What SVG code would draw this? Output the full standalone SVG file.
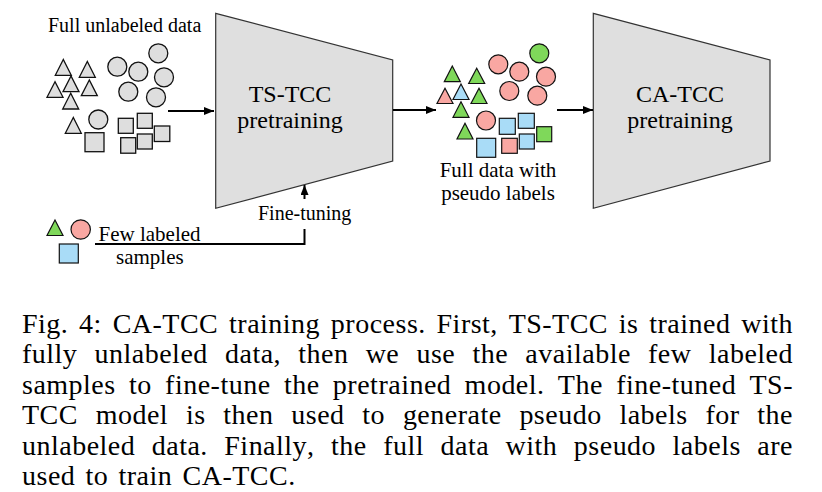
<svg xmlns="http://www.w3.org/2000/svg" width="822" height="492" viewBox="0 0 822 492">
<defs>
<style>
.lbl{font-family:"Liberation Serif","Times New Roman",serif;fill:#000}
.cap{font-family:"Liberation Serif","Times New Roman",serif;font-size:28px;fill:#000;letter-spacing:0.5px;font-kerning:none}
.trap{fill:#dfdfdf;stroke:#333;stroke-width:1.2}
.g{fill:#dedede;stroke:#111;stroke-width:1.3}
.gr{fill:#7fd85a;stroke:#111;stroke-width:1.2}
.rd{fill:#f9a7a2;stroke:#111;stroke-width:1.2}
.bl{fill:#a9dcf7;stroke:#111;stroke-width:1.2}
.ln{fill:none;stroke:#000;stroke-width:2}
</style>
<marker id="ah" markerWidth="10" markerHeight="8" refX="10" refY="4" orient="auto" markerUnits="userSpaceOnUse">
<path d="M0,0 L10,4 L0,8 z" fill="#000"/>
</marker>
</defs>
<rect width="822" height="492" fill="#fff"/>

<g id="unlabeled-data">
<text class="lbl" x="48" y="32" font-size="20">Full unlabeled data</text>
<polygon class="g" points="63.3,59.5 55.3,75.3 71.3,75.3"/>
<polygon class="g" points="87.3,61.5 79.3,77.3 95.3,77.3"/>
<polygon class="g" points="71,76 63,91.7 79,91.7"/>
<polygon class="g" points="55,81.7 47,97.3 63,97.3"/>
<polygon class="g" points="89.3,80 81.3,95.7 97.3,95.7"/>
<polygon class="g" points="70.7,93.3 62.7,109 78.7,109"/>
<polygon class="g" points="73.3,117.5 65.3,133.3 81.3,133.3"/>
<circle class="g" cx="158.3" cy="53.3" r="9.5"/>
<circle class="g" cx="117.3" cy="66.7" r="9.5"/>
<circle class="g" cx="138.3" cy="71.7" r="9.5"/>
<circle class="g" cx="164" cy="77.3" r="9.5"/>
<circle class="g" cx="128.3" cy="91.7" r="9.5"/>
<circle class="g" cx="156" cy="97.3" r="9.5"/>
<circle class="g" cx="98.3" cy="119.5" r="9.5"/>
<rect class="g" x="118.3" y="118.3" width="15" height="15"/>
<rect class="g" x="137.3" y="113.3" width="15" height="15"/>
<rect class="g" x="154.3" y="126" width="15.5" height="15.5"/>
<rect class="g" x="137.3" y="134" width="15" height="15"/>
<rect class="g" x="120.7" y="137.7" width="15" height="15.5"/>
<rect class="g" x="85" y="132.7" width="19" height="19"/>
</g>

<g id="ts-tcc">
<polygon class="trap" points="215.7,13.3 392.7,60 392.7,161 215.7,208.3"/>
<text class="lbl" x="290" y="101.5" font-size="24" text-anchor="middle">TS-TCC</text>
<text class="lbl" x="290" y="128" font-size="24" text-anchor="middle">pretraining</text>
</g>

<g id="pseudo-data">
<polygon class="gr" points="452.3,66 444.3,81.7 460.3,81.7"/>
<polygon class="gr" points="476.7,68.3 468.7,83.5 484.7,83.5"/>
<polygon class="rd" points="445,88.3 437,103.5 453,103.5"/>
<polygon class="bl" points="461,84 453,99.5 469,99.5"/>
<polygon class="gr" points="479,88.3 471,103.5 487,103.5"/>
<polygon class="gr" points="461,101.7 453,117.3 469,117.3"/>
<polygon class="gr" points="465,123.3 457,139 473,139"/>
<circle class="rd" cx="498.3" cy="64.3" r="9.5"/>
<circle class="rd" cx="519.3" cy="71.7" r="9.5"/>
<circle class="gr" cx="539.3" cy="53.3" r="9.5"/>
<circle class="rd" cx="546" cy="76.7" r="9.5"/>
<circle class="rd" cx="509.3" cy="91" r="9.5"/>
<circle class="rd" cx="537.3" cy="95.7" r="9.5"/>
<circle class="rd" cx="486" cy="120.5" r="9.5"/>
<rect class="bl" x="499.3" y="118.3" width="16" height="16"/>
<rect class="bl" x="518.3" y="113.3" width="16" height="15"/>
<rect class="gr" x="536.7" y="126.7" width="15" height="15"/>
<rect class="bl" x="519.3" y="134" width="15" height="15"/>
<rect class="rd" x="501.7" y="138.3" width="15.6" height="15"/>
<rect class="bl" x="476.7" y="138.3" width="19" height="19"/>
<text class="lbl" x="498" y="176.5" font-size="21" text-anchor="middle">Full data with</text>
<text class="lbl" x="498" y="200" font-size="21" text-anchor="middle">pseudo labels</text>
</g>

<g id="ca-tcc">
<polygon class="trap" points="593.3,13.3 770,60 770,161 593.3,208.3"/>
<text class="lbl" x="680" y="101.5" font-size="24" text-anchor="middle">CA-TCC</text>
<text class="lbl" x="680" y="128" font-size="24" text-anchor="middle">pretraining</text>
</g>

<g id="few-labeled">
<polygon class="gr" points="55,220 47,235.5 63,235.5"/>
<circle class="rd" cx="80.7" cy="229.5" r="9.7"/>
<rect class="bl" x="59.3" y="244" width="19" height="19"/>
<text class="lbl" x="98.5" y="240.5" font-size="21">Few labeled</text>
<text class="lbl" x="116" y="263.5" font-size="21">samples</text>
</g>

<g id="connectors">
<line class="ln" x1="168" y1="111" x2="214" y2="111" marker-end="url(#ah)"/>
<line class="ln" x1="393" y1="110" x2="436" y2="110" marker-end="url(#ah)"/>
<line class="ln" x1="557" y1="110" x2="593" y2="110" stroke-width="3" marker-end="url(#ah)"/>
<polyline class="ln" points="95,244 304.5,244 304.5,229"/>
<line class="ln" x1="304.5" y1="199" x2="304.5" y2="185" marker-end="url(#ah)"/>
<text class="lbl" x="258" y="220" font-size="20">Fine-tuning</text>
</g>

<g id="caption">
<text class="cap" x="22" y="332.5" word-spacing="3.3" textLength="771" lengthAdjust="spacing">Fig. 4: CA-TCC training process. First, TS-TCC is trained with</text>
<text class="cap" x="22" y="363" word-spacing="9.7" textLength="771" lengthAdjust="spacing">fully unlabeled data, then we use the available few labeled</text>
<text class="cap" x="22" y="393.5" word-spacing="5.8" textLength="771" lengthAdjust="spacing">samples to fine-tune the pretrained model. The fine-tuned TS-</text>
<text class="cap" x="22" y="424" word-spacing="10.3" textLength="771" lengthAdjust="spacing">TCC model is then used to generate pseudo labels for the</text>
<text class="cap" x="22" y="454.5" word-spacing="9" textLength="771" lengthAdjust="spacing">unlabeled data. Finally, the full data with pseudo labels are</text>
<text class="cap" x="22" y="485" word-spacing="2.7">used to train CA-TCC.</text>
</g>
</svg>
